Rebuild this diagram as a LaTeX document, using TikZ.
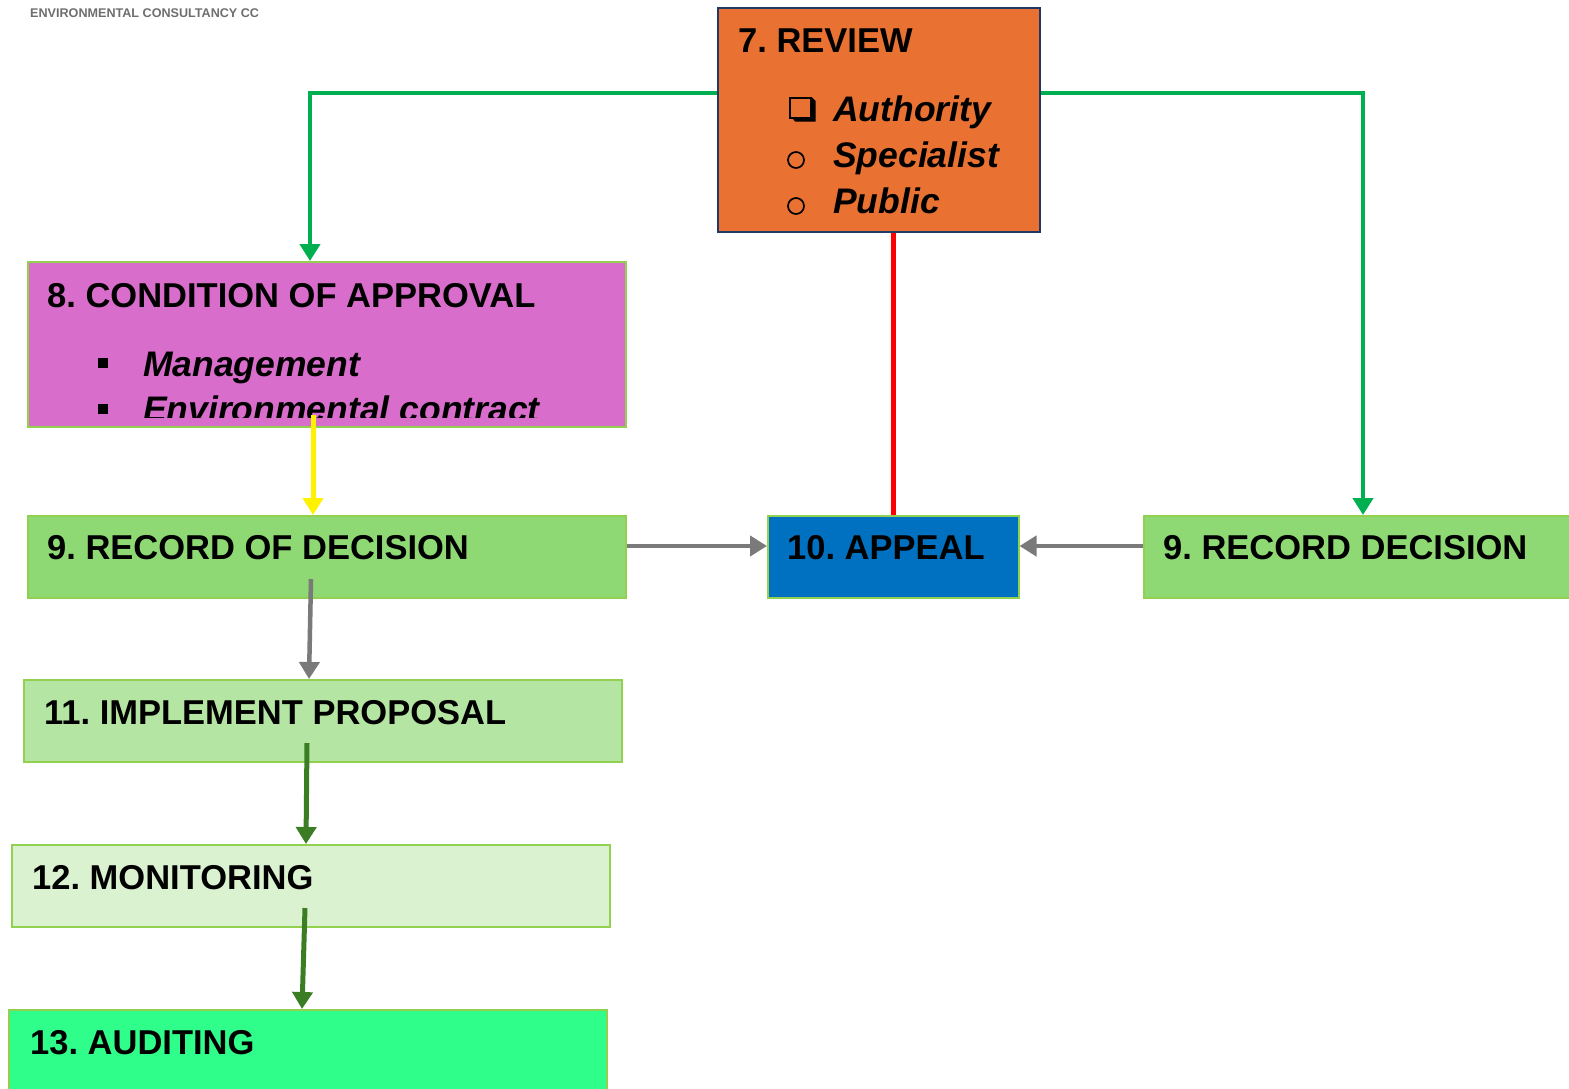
\documentclass[tikz,border=0pt]{standalone}
\usepackage{fontspec}
\setmainfont{Liberation Sans}
\usetikzlibrary{arrows.meta,calc}
\definecolor{cOrange}{HTML}{E97132}
\definecolor{cPink}{HTML}{D86DCB}
\definecolor{cGreen}{HTML}{8ED973}
\definecolor{cBlue}{HTML}{0070C0}
\definecolor{cLight}{HTML}{B4E5A2}
\definecolor{cPale}{HTML}{DAF2D0}
\definecolor{cAud}{HTML}{2FFF8A}
\definecolor{cBorder}{HTML}{92D050}
\definecolor{cNavy}{HTML}{1F3864}
\definecolor{cArrowGreen}{HTML}{00B050}
\definecolor{cDark}{HTML}{3B7D23}
\definecolor{cGrey}{HTML}{7A7A7A}
\definecolor{cHdr}{HTML}{6E6E6E}
\tikzset{
  box/.style={draw=cBorder, line width=1.5pt, anchor=north west, inner sep=0pt, minimum height=82pt},
  ttl/.style={anchor=base west, inner sep=0pt, font=\bfseries\fontsize{34.5}{40}\selectfont},
  itm/.style={anchor=base west, inner sep=0pt, font=\bfseries\itshape\fontsize{35.5}{42}\selectfont},
  tip/.style={-{Triangle[width=20pt,length=17pt]}},
  greenarrow/.style={draw=cArrowGreen, line width=4.5pt, tip},
  greyarrow/.style={draw=cGrey, line width=4.5pt, tip},
  darkarrow/.style={draw=cDark, line width=5pt, tip},
  yelarrow/.style={draw=yellow, line width=5pt, tip},
}
\begin{document}
\frenchspacing
\begin{tikzpicture}[x=1pt,y=-1pt]
\useasboundingbox (0,0) rectangle (1569,1088);
% header
\node[anchor=base west, inner sep=0pt, text=cHdr, font=\bfseries\fontsize{12.6}{14}\selectfont] (hdr) at (30,17) {ENVIRONMENTAL CONSULTANCY CC};
% boxes
\node[box, draw=cNavy, fill=cOrange, minimum width=322pt, minimum height=224pt] (review) at (717,7) {};
\node[box, fill=cPink, minimum width=598pt, minimum height=165pt] (cond) at (27,261) {};
\node[box, fill=cGreen, minimum width=598pt] (rec1) at (27,515) {};
\node[box, fill=cBlue, minimum width=251pt] (appeal) at (767,515) {};
\node[box, fill=cGreen, minimum width=440pt] (rec2) at (1143,515) {};
\node[box, fill=cLight, minimum width=598pt] (impl) at (23,679) {};
\node[box, fill=cPale, minimum width=598pt] (mon) at (11,844) {};
\node[box, fill=cAud, minimum width=598pt, minimum height=100pt] (aud) at (8,1009) {};
% review text
\node[ttl] (t7) at (738,52) {7. REVIEW};
\draw[line width=1.8pt] (790,98) rectangle (811,118);
\fill (791.5,117) -- (812,117) -- (812,97.5) -- (815.5,101) -- (815.5,121.5) -- (795,121.5) -- cycle;
\node[itm] (i1) at (833,121) {Authority};
\draw[line width=1.7pt] (796,160) circle (8pt);
\node[itm] (i2) at (833,167) {Specialist};
\draw[line width=1.7pt] (796,206) circle (8pt);
\node[itm] (i3) at (833,213) {Public};
% condition text
\node[ttl] (t8) at (47,307) {8. CONDITION OF APPROVAL};
\fill (98,358) rectangle (108,368);
\node[itm] (c1) at (143,376) {Management};
\begin{scope}
\clip (27,261) rectangle (625,417);
\fill (98,404) rectangle (108,414);
\node[itm] (c2) at (143,421) {Environmental contract};
\end{scope}
% titles
\node[ttl] (t9) at (47,559) {9. RECORD OF DECISION};
\node[ttl] (t10) at (787,559) {10. APPEAL};
\node[ttl] (t9b) at (1163,559) {9. RECORD DECISION};
\node[ttl] (t11) at (44,724) {11. IMPLEMENT PROPOSAL};
\node[ttl] (t12) at (32,889) {12. MONITORING};
\node[ttl] (t13) at (30,1054) {13. AUDITING};
% helper coordinates
\coordinate (yg) at (0,93);
\coordinate (xg1) at (310,0);
\coordinate (xg2) at (1363,0);
\coordinate (yh) at (0,546);
\coordinate (ys) at (313,415);
\coordinate (g1s) at (311,579);
\coordinate (d1s) at (307,743);
\coordinate (d2s) at (305,908);
% connectors
\draw[greenarrow] (review.west |- yg) -| (cond.north -| xg1);
\draw[greenarrow] (review.east |- yg) -| (rec2.north -| xg2);
\draw[draw=red, line width=5pt] (review.south -| appeal.north) -- (appeal.north);
\draw[yelarrow] (ys) -- (rec1.north -| ys);
\draw[greyarrow] (rec1.east |- yh) -- (appeal.west |- yh);
\draw[greyarrow] (rec2.west |- yh) -- (appeal.east |- yh);
\draw[greyarrow] (g1s) -- ([xshift=286pt]impl.north west);
\draw[darkarrow] (d1s) -- ([xshift=295pt]mon.north west);
\draw[darkarrow] (d2s) -- ([xshift=294pt]aud.north west);
\end{tikzpicture}
\end{document}
